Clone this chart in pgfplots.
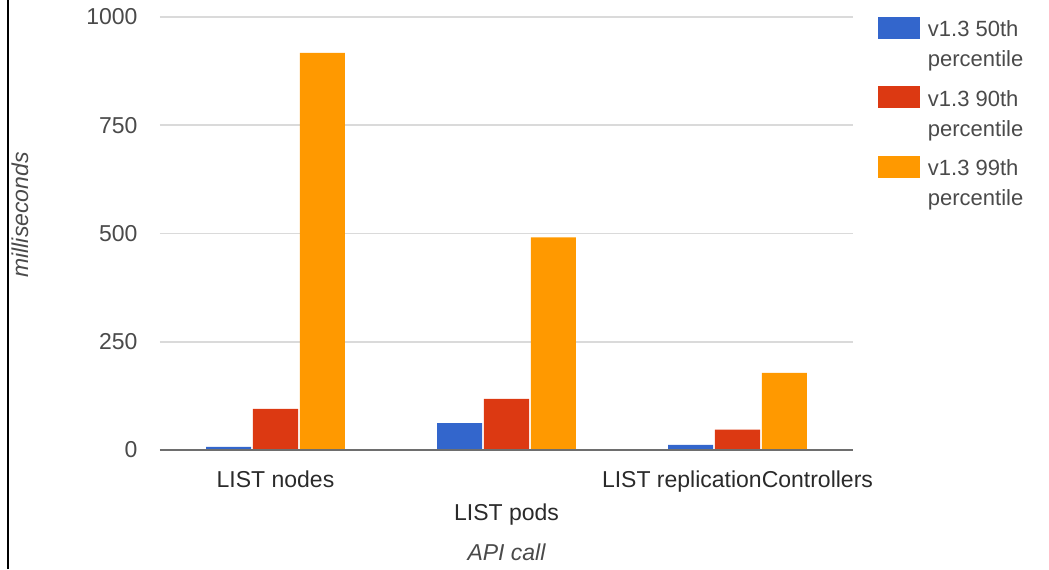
\documentclass[border=0pt]{standalone}
\usepackage{pgfplots}
\pgfplotsset{compat=1.18}
\usepackage{fontspec}
\setmainfont{Liberation Sans}
\definecolor{gblue}{HTML}{3366CC}
\definecolor{gred}{HTML}{DC3912}
\definecolor{gorange}{HTML}{FF9900}
\definecolor{gridc}{HTML}{DADADA}
\definecolor{txt}{HTML}{4A4A4A}
\definecolor{dtxt}{HTML}{2A2A2A}
\definecolor{basec}{HTML}{6E6E6E}
\pgfplotsset{swatch/.style={legend image code/.code={\fill[##1] (0pt,3.15pt) rectangle (21pt,14.15pt);}}}
\begin{document}
\begin{tikzpicture}
\useasboundingbox (-80pt,-59.5pt) rectangle (444.5pt,225pt);
\begin{axis}[
  at={(0,0)}, anchor=south west,
  scale only axis, width=346.5pt, height=216.5pt,
  xmin=-0.5, xmax=2.5, ymin=0, ymax=1000,
  axis line style={draw=none},
  major tick length=0pt,
  ybar, bar width=0.195,
  ytick={0,250,500,750,1000},
  ymajorgrids, grid style={gridc, line width=0.8pt},
  /pgf/number format/assume math mode=true,
  /pgf/number format/1000 sep={},
  yticklabel style={font=\fontsize{11.5}{13.8}\selectfont, text=txt, xshift=-7.7pt},
  xtick={0,2}, xticklabels={LIST nodes, LIST replicationControllers},
  xticklabel style={font=\fontsize{11.5}{13.8}\selectfont, text=dtxt, yshift=-7pt},
  extra x ticks={1}, extra x tick labels={LIST pods},
  extra x tick style={xticklabel style={yshift=-16.5pt}},
  xlabel={API call},
  xlabel style={at={(axis description cs:0.5,-0.2356)}, anchor=center, font=\fontsize{11.5}{13.8}\selectfont\itshape, text=txt},
  ylabel={milliseconds},
  ylabel style={at={(axis description cs:-0.202,0.543)}, anchor=center, font=\fontsize{11.5}{13.8}\selectfont\itshape, text=txt},
  legend cell align=left,
  legend style={at={(rel axis cs:1.036,1)}, anchor=north west, draw=none, fill=none,
    inner sep=0pt, outer sep=0pt, row sep=8.25pt,
    font=\fontsize{11}{15}\selectfont, text=txt,
    nodes={inner ysep=0pt, inner xsep=4pt, align=left}},
]
\addplot[fill=gblue, draw=none, bar shift=-0.203, swatch]
  coordinates {(0,7) (1,62) (2,12)};
\addlegendentry{v1.3 50th\\percentile}
\addplot[fill=gred, draw=none, bar shift=0, swatch]
  coordinates {(0,95) (1,118) (2,47)};
\addlegendentry{v1.3 90th\\percentile}
\addplot[fill=gorange, draw=none, bar shift=0.203, swatch]
  coordinates {(0,917) (1,491) (2,178)};
\addlegendentry{v1.3 99th\\percentile}
\draw[basec, line width=1.2pt] (rel axis cs:0,0) -- (rel axis cs:1,0);
\end{axis}
\draw[black, line width=1.3pt] (-76pt,-59.5pt) -- (-76pt,225pt);
\end{tikzpicture}
\end{document}
